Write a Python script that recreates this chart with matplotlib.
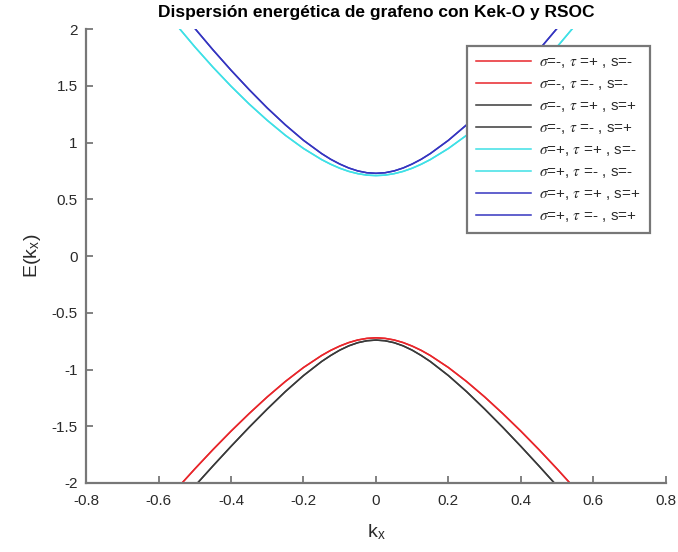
import matplotlib
matplotlib.use('Agg')
import matplotlib.pyplot as plt

plt.rcParams['font.family'] = ['Liberation Sans', 'DejaVu Sans']
plt.rcParams['axes.unicode_minus'] = False
plt.rcParams['mathtext.fontset'] = 'stix'

# momentum grid and band energies
k = [-0.55, -0.50, -0.45, -0.40, -0.35, -0.30, -0.25, -0.20, -0.15, -0.125, -0.10, -0.075, -0.05, -0.025, 0.00,
     0.025, 0.05, 0.075, 0.10, 0.125, 0.15, 0.20, 0.25, 0.30, 0.35, 0.40, 0.45, 0.50, 0.55]

E_red = [-2.052, -1.876, -1.706, -1.543, -1.388, -1.241, -1.105, -0.982, -0.876, -0.831, -0.793, -0.762, -0.739, -0.725, -0.720,
         -0.725, -0.739, -0.762, -0.793, -0.831, -0.876, -0.982, -1.105, -1.241, -1.388, -1.543, -1.706, -1.876, -2.052]
E_black = [-2.208, -2.027, -1.850, -1.677, -1.509, -1.348, -1.194, -1.053, -0.929, -0.876, -0.829, -0.791, -0.763, -0.746, -0.740,
           -0.746, -0.763, -0.791, -0.829, -0.876, -0.929, -1.053, -1.194, -1.348, -1.509, -1.677, -1.850, -2.027, -2.208]
E_cyan = [2.035, 1.845, 1.666, 1.498, 1.341, 1.197, 1.065, 0.949, 0.851, 0.810, 0.775, 0.747, 0.727, 0.714, 0.710,
          0.714, 0.727, 0.747, 0.775, 0.810, 0.851, 0.949, 1.065, 1.197, 1.341, 1.498, 1.666, 1.845, 2.035]
E_blue = [2.205, 2.008, 1.819, 1.639, 1.468, 1.306, 1.157, 1.021, 0.904, 0.854, 0.812, 0.777, 0.751, 0.735, 0.730,
          0.735, 0.751, 0.777, 0.812, 0.854, 0.904, 1.021, 1.157, 1.306, 1.468, 1.639, 1.819, 2.008, 2.205]

labels = [r'$\sigma$=-, $\tau$ =+ , s=-',
          r'$\sigma$=-, $\tau$ =- , s=-',
          r'$\sigma$=-, $\tau$ =+ , s=+',
          r'$\sigma$=-, $\tau$ =- , s=+',
          r'$\sigma$=+, $\tau$ =+ , s=-',
          r'$\sigma$=+, $\tau$ =- , s=-',
          r'$\sigma$=+, $\tau$ =+ , s=+',
          r'$\sigma$=+, $\tau$ =- , s=+']
bands = [E_red, E_red, E_black, E_black, E_cyan, E_cyan, E_blue, E_blue]
colors = ['#e8262b', '#e8262b', '#3a3a3a', '#3a3a3a', '#3fe0e6', '#3fe0e6', '#3535c0', '#3535c0']

fig = plt.figure(figsize=(6.78, 5.52), dpi=100)
ax = fig.add_axes([0.127, 0.125, 0.855, 0.822])

for E, lab, c in zip(bands, labels, colors):
    ax.plot(k, E, color=c, linewidth=1.1, label=lab)

ax.set_xlim(-0.8, 0.8)
ax.set_ylim(-2, 2)
xt = [-0.8, -0.6, -0.4, -0.2, 0, 0.2, 0.4, 0.6, 0.8]
yt = [-2, -1.5, -1, -0.5, 0, 0.5, 1, 1.5, 2]
ax.set_xticks(xt)
ax.set_xticklabels(['-0.8', '-0.6', '-0.4', '-0.2', '0', '0.2', '0.4', '0.6', '0.8'])
ax.set_yticks(yt)
ax.set_yticklabels(['-2', '-1.5', '-1', '-0.5', '0', '0.5', '1', '1.5', '2'])

for side in ['top', 'right']:
    ax.spines[side].set_visible(False)
for side in ['left', 'bottom']:
    ax.spines[side].set_color('#777777')
    ax.spines[side].set_linewidth(1.6)
ax.tick_params(direction='in', length=5, width=1.3, color='#777777',
               labelsize=11, labelcolor='#2a2a2a')
ax.tick_params(axis='x', pad=8)
ax.tick_params(axis='y', pad=6)

ax.set_xlabel(r'k$_\mathregular{x}$', fontsize=14, color='#2a2a2a', labelpad=10)
ax.set_ylabel(r'E(k$_\mathregular{x}$)', fontsize=14, color='#2a2a2a', labelpad=6)
ax.set_title('Dispersión energética de grafeno con Kek-O y RSOC',
             fontsize=12.5, fontweight='bold', pad=9)

leg = ax.legend(loc='upper right', bbox_to_anchor=(0.986, 0.98), fontsize=11,
                handlelength=3.6, handletextpad=0.55, labelspacing=0.46, borderpad=0.6,
                fancybox=False, framealpha=1, edgecolor='#777777')
leg.get_frame().set_linewidth(1.6)
for t in leg.get_texts():
    t.set_color('#2a2a2a')

fig.savefig('out.png', dpi=100)
